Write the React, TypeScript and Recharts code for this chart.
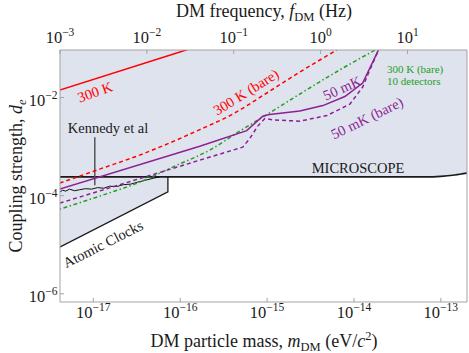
import React from 'react';
import { ComposedChart, XAxis, YAxis, Line, Area } from 'recharts';

const SERIF = '"Liberation Serif", "Times New Roman", serif';
const H_EV = 4.1357e-15; // eV per Hz

const massDomain = [4.1357e-18, 2.0e-13];
const couplingDomain = [6.8e-7, 0.0933];
const massTicks = [1e-17, 1e-16, 1e-15, 1e-14, 1e-13];
const freqTicks = [1e-3, 1e-2, 1e-1, 1, 10];
const couplingTicks = [1e-6, 1e-4, 1e-2];

// [mass (eV), d_e]
const thermal300K = [[4.1e-18, 1.42e-2], [1.22e-16, 9.55e-2]];
const thermal300KBare = [
  [4.1e-18, 1.8e-4], [1.18e-17, 3.48e-4], [3.41e-17, 6.71e-4], [1.68e-16, 2.22e-3],
  [4.02e-16, 4.6e-3], [9.93e-16, 1.24e-2], [2.38e-15, 3.31e-2], [6.35e-15, 9.31e-2],
];
const bare10Detectors = [
  [4.1e-18, 5.3e-5], [1.18e-17, 9.77e-5], [3.41e-17, 1.89e-4], [8.65e-17, 4.0e-4],
  [2.19e-16, 8.49e-4], [4.84e-16, 2.07e-3], [8.91e-16, 4.0e-3], [2.38e-15, 1.18e-2],
  [6.52e-15, 3.48e-2], [1.84e-14, 9.77e-2],
];
const cryo50mK = [
  [4.1e-18, 1.36e-4], [1.68e-16, 1.02e-3], [5.83e-16, 2.12e-3], [8.91e-16, 4.19e-3],
  [1.07e-15, 4.5e-3], [2.38e-15, 5.3e-3], [4.39e-15, 6.87e-3], [7.85e-15, 1.05e-2],
  [1.26e-14, 1.98e-2], [1.94e-14, 9.77e-2],
];
const cryo50mKBare = [
  [4.1e-18, 7.03e-5], [1.68e-16, 5.3e-4], [5.25e-16, 9.77e-4], [6.31e-16, 1.46e-3],
  [7.81e-16, 2.62e-3], [9.42e-16, 3.73e-3], [1.23e-15, 3.48e-3], [2.38e-15, 3.31e-3],
  [4.88e-15, 4.3e-3], [8.97e-15, 7.36e-3], [1.26e-14, 1.64e-2], [1.45e-14, 3.0e-2],
  [1.94e-14, 9.77e-2],
];
const atomicClocks = [[4.1e-18, 8.89e-6], [7.22e-17, 1.2e-4], [7.22e-17, 2.42e-4]];
const microscope = [
  [4.1e-18, 2.42e-4], [6.5e-14, 2.42e-4], [1.0e-13, 2.48e-4], [1.45e-13, 2.64e-4], [2.0e-13, 2.88e-4],
];
const kennedy = [
  [4.09e-18, 1.18e-4], [4.43e-18, 1.29e-4], [4.8e-18, 1.24e-4], [5.33e-18, 1.36e-4],
  [6.09e-18, 1.26e-4], [6.95e-18, 1.32e-4], [8.15e-18, 1.39e-4], [9.55e-18, 1.36e-4],
  [1.12e-17, 1.46e-4], [1.32e-17, 1.42e-4], [1.54e-17, 1.56e-4], [1.85e-17, 1.53e-4],
  [2.23e-17, 1.68e-4], [2.69e-17, 1.72e-4], [3.24e-17, 1.89e-4], [4.01e-17, 2.07e-4],
  [4.96e-17, 2.28e-4], [5.8e-17, 2.4e-4],
];
const kennedyPointer = [[1.04e-17, 1.56e-3], [1.04e-17, 1.64e-4]];

const toPts = (arr: number[][]) => arr.map(([m, d]) => ({ m, d }));

// excluded region: everything above the combined atomic clock / MICROSCOPE bound
const shadeData = [...atomicClocks, ...microscope.filter((p) => p[0] > atomicClocks[2][0])].map(
  ([m, d]) => ({ m, range: [d, couplingDomain[1]] })
);

const FRAME = '#a3a3a3';

const Pow = ({ exp, x, y, anchor }: { exp: number; x: number; y: number; anchor: string }) => (
  <text x={x} y={y} textAnchor={anchor} fontFamily={SERIF} fontSize={16.5} fill="#1a1a1a">
    10
    <tspan dy={-7} fontSize={11.5}>
      {exp < 0 ? '\u2212' + -exp : String(exp)}
    </tspan>
  </text>
);

const BottomTick = (props: any) => {
  const { x, payload } = props;
  const exp = Math.round(Math.log10(payload.value));
  return (
    <g>
      <line x1={x} x2={x} y1={302} y2={298} stroke={FRAME} />
      <Pow exp={exp} x={x} y={317.5} anchor="middle" />
    </g>
  );
};

const TopTick = (props: any) => {
  const { x, payload } = props;
  const exp = Math.round(Math.log10(payload.value / H_EV));
  return (
    <g>
      <line x1={x} x2={x} y1={50} y2={54} stroke={FRAME} />
      <Pow exp={exp} x={x} y={43} anchor="middle" />
    </g>
  );
};

const LeftTick = (props: any) => {
  const { y, payload } = props;
  const exp = Math.round(Math.log10(payload.value));
  return (
    <g>
      <line x1={60} x2={64} y1={y} y2={y} stroke={FRAME} />
      <Pow exp={exp} x={57.5} y={y + 8} anchor="end" />
    </g>
  );
};

function Annotations() {
  const t = { fontFamily: SERIF, fontSize: 14.5 };
  return (
    <svg
      width={469}
      height={353}
      style={{ position: 'absolute', left: 0, top: 0, pointerEvents: 'none' }}
    >
      <text x={264} y={17} textAnchor="middle" fontFamily={SERIF} fontSize={18} fill="#1a1a1a">
        DM frequency, <tspan fontStyle="italic">f</tspan>
        <tspan dy={4} fontSize={12.5}>DM</tspan>
        <tspan dy={-4}> (Hz)</tspan>
      </text>
      <text x={264} y={347} textAnchor="middle" fontFamily={SERIF} fontSize={18} fill="#1a1a1a">
        DM particle mass, <tspan fontStyle="italic">m</tspan>
        <tspan dy={4} fontSize={12.5}>DM</tspan>
        <tspan dy={-4}> (eV/</tspan>
        <tspan fontStyle="italic">c</tspan>
        <tspan dy={-7} fontSize={12.5}>2</tspan>
        <tspan dy={7}>)</tspan>
      </text>
      <text
        transform="translate(22,176) rotate(-90)"
        textAnchor="middle"
        fontFamily={SERIF}
        fontSize={18}
        fill="#1a1a1a"
      >
        Coupling strength, <tspan fontStyle="italic">d</tspan>
        <tspan dy={4} fontSize={12.5} fontStyle="italic">e</tspan>
      </text>

      <text {...t} transform="translate(95,92) rotate(-20)" y={5} textAnchor="middle" fill="#ff0000">
        300 K
      </text>
      <text {...t} transform="translate(246,92) rotate(-32)" y={5} textAnchor="middle" fill="#ff0000">
        300 K (bare)
      </text>
      <text {...t} transform="translate(342,88) rotate(-24)" y={5} textAnchor="middle" fill="#8e1f94">
        50 mK
      </text>
      <text {...t} transform="translate(367,118) rotate(-26)" y={5} textAnchor="middle" fill="#8e1f94">
        50 mK (bare)
      </text>
      <text {...t} transform="translate(103,244) rotate(-27)" y={5} textAnchor="middle" fill="#1a1a1a">
        Atomic Clocks
      </text>
      <text {...t} x={108} y={133} textAnchor="middle" fill="#1a1a1a">
        Kennedy et al
      </text>
      <text {...t} x={358} y={172.5} textAnchor="middle" fill="#1a1a1a">
        MICROSCOPE
      </text>
      <text fontFamily={SERIF} fontSize={11} x={387} y={72.5} fill="#22a022">
        300 K (bare)
      </text>
      <text fontFamily={SERIF} fontSize={11} x={387} y={85} fill="#22a022">
        10 detectors
      </text>
    </svg>
  );
}

export default function App() {
  return (
    <div style={{ position: 'absolute', left: 0, top: 0, width: 469, height: 353, background: '#fff' }}>
      <ComposedChart width={469} height={353} margin={{ top: 0, right: 0, bottom: 0, left: 0 }}>
        <XAxis
          xAxisId="m"
          dataKey="m"
          type="number"
          scale="log"
          domain={massDomain}
          allowDataOverflow
          ticks={massTicks}
          interval={0}
          height={51}
          tickSize={0}
          tickMargin={0}
          tickLine={false}
          axisLine={{ stroke: FRAME }}
          tick={<BottomTick />}
        />
        <XAxis
          xAxisId="f"
          dataKey="m"
          orientation="top"
          type="number"
          scale="log"
          domain={massDomain}
          allowDataOverflow
          ticks={freqTicks.map((f) => f * H_EV)}
          interval={0}
          height={50}
          tickSize={0}
          tickMargin={0}
          tickLine={false}
          axisLine={{ stroke: FRAME }}
          tick={<TopTick />}
        />
        <YAxis
          yAxisId="d"
          type="number"
          scale="log"
          domain={couplingDomain}
          allowDataOverflow
          ticks={couplingTicks}
          interval={0}
          width={60}
          tickSize={0}
          tickMargin={0}
          tickLine={false}
          axisLine={{ stroke: FRAME }}
          tick={<LeftTick />}
        />
        <YAxis
          yAxisId="r"
          orientation="right"
          type="number"
          scale="log"
          domain={couplingDomain}
          allowDataOverflow
          width={2}
          tick={false}
          tickLine={false}
          axisLine={{ stroke: FRAME }}
        />

        <Area
          xAxisId="m"
          yAxisId="d"
          data={shadeData}
          dataKey="range"
          type="linear"
          fill="#dfe3ee"
          fillOpacity={1}
          stroke="none"
          isAnimationActive={false}
        />

        <Line xAxisId="m" yAxisId="d" data={toPts(microscope)} dataKey="d" type="monotone"
          stroke="#1a1a1a" strokeWidth={1.6} dot={false} isAnimationActive={false} />
        <Line xAxisId="m" yAxisId="d" data={toPts(atomicClocks)} dataKey="d" type="linear"
          stroke="#1a1a1a" strokeWidth={1.3} dot={false} isAnimationActive={false} />
        <Line xAxisId="m" yAxisId="d" data={toPts(kennedy)} dataKey="d" type="linear"
          stroke="#111" strokeWidth={1} dot={false} isAnimationActive={false} />
        <Line xAxisId="m" yAxisId="d" data={toPts(kennedyPointer)} dataKey="d" type="linear"
          stroke="#555" strokeWidth={1.5} dot={false} isAnimationActive={false} />

        <Line xAxisId="m" yAxisId="d" data={toPts(thermal300K)} dataKey="d" type="linear"
          stroke="#ff0000" strokeWidth={1.5} dot={false} isAnimationActive={false} />
        <Line xAxisId="m" yAxisId="d" data={toPts(thermal300KBare)} dataKey="d" type="monotone"
          stroke="#ff0000" strokeWidth={1.5} strokeDasharray="4 3" dot={false} isAnimationActive={false} />
        <Line xAxisId="m" yAxisId="d" data={toPts(bare10Detectors)} dataKey="d" type="monotone"
          stroke="#22a022" strokeWidth={1.5} strokeDasharray="1.5 2.5 4 2.5" dot={false} isAnimationActive={false} />
        <Line xAxisId="m" yAxisId="d" data={toPts(cryo50mKBare)} dataKey="d" type="linear"
          stroke="#8e1f94" strokeWidth={1.5} strokeDasharray="4 3" dot={false} isAnimationActive={false} />
        <Line xAxisId="m" yAxisId="d" data={toPts(cryo50mK)} dataKey="d" type="linear"
          stroke="#8e1f94" strokeWidth={1.5} dot={false} isAnimationActive={false} />
      </ComposedChart>
      <Annotations />
    </div>
  );
}
